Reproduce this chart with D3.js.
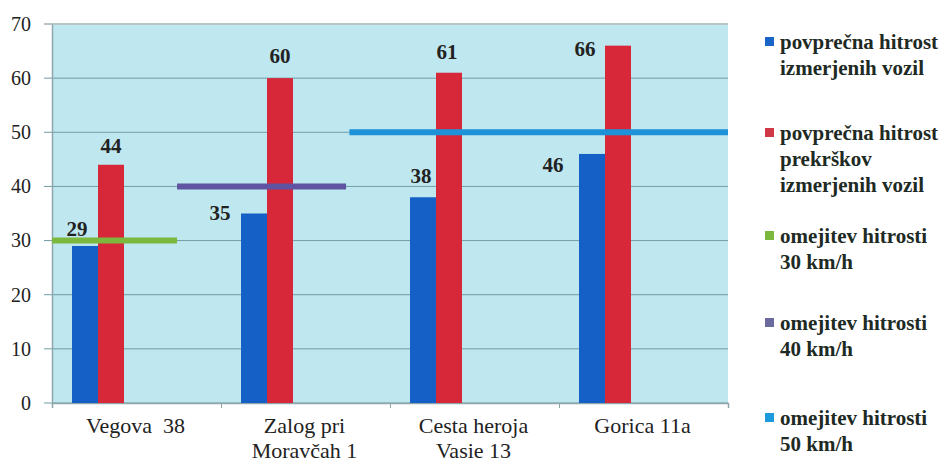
<!DOCTYPE html>
<html>
<head>
<meta charset="utf-8">
<script src="https://cdn.jsdelivr.net/npm/d3@7"></script>
<style>
  body { margin: 0; background: #fff; }
</style>
</head>
<body>
<svg width="943" height="465"></svg>
<script>
// ---> Data
const categories = [["Vegova  38"], ["Zalog pri", "Moravčah 1"], ["Cesta heroja", "Vasie 13"], ["Gorica 11a"]];
const avgAll = [29, 35, 38, 46];
const avgViolations = [44, 60, 61, 66];
const yTicks = [0, 10, 20, 30, 40, 50, 60, 70];
// speed limit segments, in category units along the x axis
const limitValues = [30, 40, 50];
const limitFrom = [0, 0.74, 1.76];
const limitTo = [0.74, 1.74, 4];
const legendLabels = [
    ["povprečna hitrost", "izmerjenih vozil"],
    ["povprečna hitrost", "prekrškov", "izmerjenih vozil"],
    ["omejitev hitrosti", "30 km/h"],
    ["omejitev hitrosti", "40 km/h"],
    ["omejitev hitrosti", "50 km/h"]
];

// ---> Styles
const serif = "'Liberation Serif', 'Times New Roman', serif";
const barColors = ["#1560c6", "#d62838"];
const limitColors = ["#7cb83e", "#5e54a2", "#1d92d8"];
const legendColors = ["#1a64c8", "#d03848", "#7cb83e", "#6a6a9e", "#1d9ade"];
const legendY = [42, 133, 236, 323, 418];
// label nudges (dx, dy) as placed in the original
const labelNudgeAll = [[-8, -10], [-34, 6], [-2, -14], [-39, 18]];
const labelNudgeViol = [[0, -12], [0, -15], [-2, -14], [-33, 10]];

const svg = d3.select("svg").attr("font-family", serif);
const plotLeft = 52, plotRight = 728, plotTop = 24, plotBottom = 403;

const x = d3.scaleBand().domain(d3.range(categories.length)).range([plotLeft, plotRight]);
const xc = d3.scaleLinear().domain([0, categories.length]).range([plotLeft, plotRight]);
const y = d3.scaleLinear().domain([0, 70]).range([plotBottom, plotTop]);
const sub = d3.scaleBand().domain([0, 1]).range([20, 72]);

// plot background
svg.append("rect")
    .attr("x", plotLeft).attr("y", plotTop)
    .attr("width", plotRight - plotLeft).attr("height", plotBottom - plotTop)
    .attr("fill", "#bfe7ef");

// gridlines
svg.append("g")
    .selectAll("line")
    .data(yTicks)
    .enter()
    .append("line")
    .attr("x1", plotLeft - 8).attr("x2", plotRight)
    .attr("y1", d => y(d)).attr("y2", d => y(d))
    .attr("stroke", d => d === 70 ? "#b8c4c6" : "#6f9ea4")
    .attr("stroke-width", d => d === 70 ? 2 : 1);

// y axis
const yAxis = svg.append("g")
    .attr("transform", `translate(${plotLeft},0)`)
    .call(d3.axisLeft(y).tickValues(yTicks).tickSize(0).tickPadding(21));
yAxis.attr("font-family", serif);
yAxis.select(".domain").attr("stroke", "#8fa6aa").attr("stroke-width", 1.5);
yAxis.selectAll("text").style("font-size", "20px").style("font-family", serif).attr("fill", "#222");

// x axis
const xAxis = svg.append("g")
    .attr("transform", `translate(0,${plotBottom})`)
    .call(d3.axisBottom(xc).tickValues(d3.range(categories.length + 1)).tickSize(5).tickFormat(""));
xAxis.select(".domain").attr("stroke", "#8fa6aa").attr("stroke-width", 1.5);
xAxis.selectAll(".tick line").attr("stroke", "#8fa6aa");

// bars
const series = [avgAll, avgViolations];
series.forEach((vals, s) => {
    svg.append("g")
        .selectAll("rect")
        .data(vals)
        .enter()
        .append("rect")
        .attr("x", (d, i) => x(i) + sub(s))
        .attr("y", d => y(d))
        .attr("width", sub.bandwidth())
        .attr("height", d => plotBottom - y(d))
        .attr("fill", barColors[s]);
});

// speed limit lines
svg.append("g")
    .selectAll("line")
    .data(limitValues)
    .enter()
    .append("line")
    .attr("x1", (d, i) => xc(limitFrom[i]))
    .attr("x2", (d, i) => xc(limitTo[i]))
    .attr("y1", d => y(d)).attr("y2", d => y(d))
    .attr("stroke", (d, i) => limitColors[i])
    .attr("stroke-width", 6);

// value labels
const nudges = [labelNudgeAll, labelNudgeViol];
series.forEach((vals, s) => {
    svg.append("g")
        .selectAll("text")
        .data(vals)
        .enter()
        .append("text")
        .attr("x", (d, i) => x(i) + sub(s) + sub.bandwidth() / 2 + nudges[s][i][0])
        .attr("y", (d, i) => y(d) + nudges[s][i][1])
        .attr("text-anchor", "middle")
        .style("font-family", serif)
        .style("font-size", "21px")
        .style("font-weight", "bold")
        .attr("fill", "#222")
        .text(d => d);
});

// category labels
const cat = svg.append("g")
    .selectAll("text")
    .data(categories)
    .enter()
    .append("text")
    .attr("x", (d, i) => x(i) + x.bandwidth() / 2 - 1)
    .attr("y", 433)
    .attr("text-anchor", "middle")
    .attr("fill", "#222")
    .style("font-family", serif)
    .style("font-size", "22px")
    .style("white-space", "pre");
cat.selectAll("tspan")
    .data(d => d)
    .enter()
    .append("tspan")
    .attr("x", function () { return d3.select(this.parentNode).attr("x"); })
    .attr("dy", (d, i) => i === 0 ? 0 : 25)
    .text(d => d);

// legend
const legend = svg.append("g")
    .selectAll("g")
    .data(legendLabels)
    .enter()
    .append("g")
    .attr("transform", (d, i) => `translate(765,${legendY[i]})`);
legend.append("rect")
    .attr("x", 0).attr("y", -5)
    .attr("width", 9).attr("height", 9)
    .attr("fill", (d, i) => legendColors[i]);
legend.append("text")
    .attr("x", 15).attr("y", 7)
    .style("font-family", serif)
    .style("font-size", "21px")
    .style("font-weight", "bold")
    .attr("fill", "#1e2a24")
    .selectAll("tspan")
    .data(d => d)
    .enter()
    .append("tspan")
    .attr("x", 15)
    .attr("dy", (d, i) => i === 0 ? 0 : 26)
    .text(d => d)
    .each(function () {
        // keep the longest lines inside the page like the original
        const w = this.getComputedTextLength();
        if (w > 158) d3.select(this).attr("textLength", 158).attr("lengthAdjust", "spacingAndGlyphs");
    });
</script>
</body>
</html>
